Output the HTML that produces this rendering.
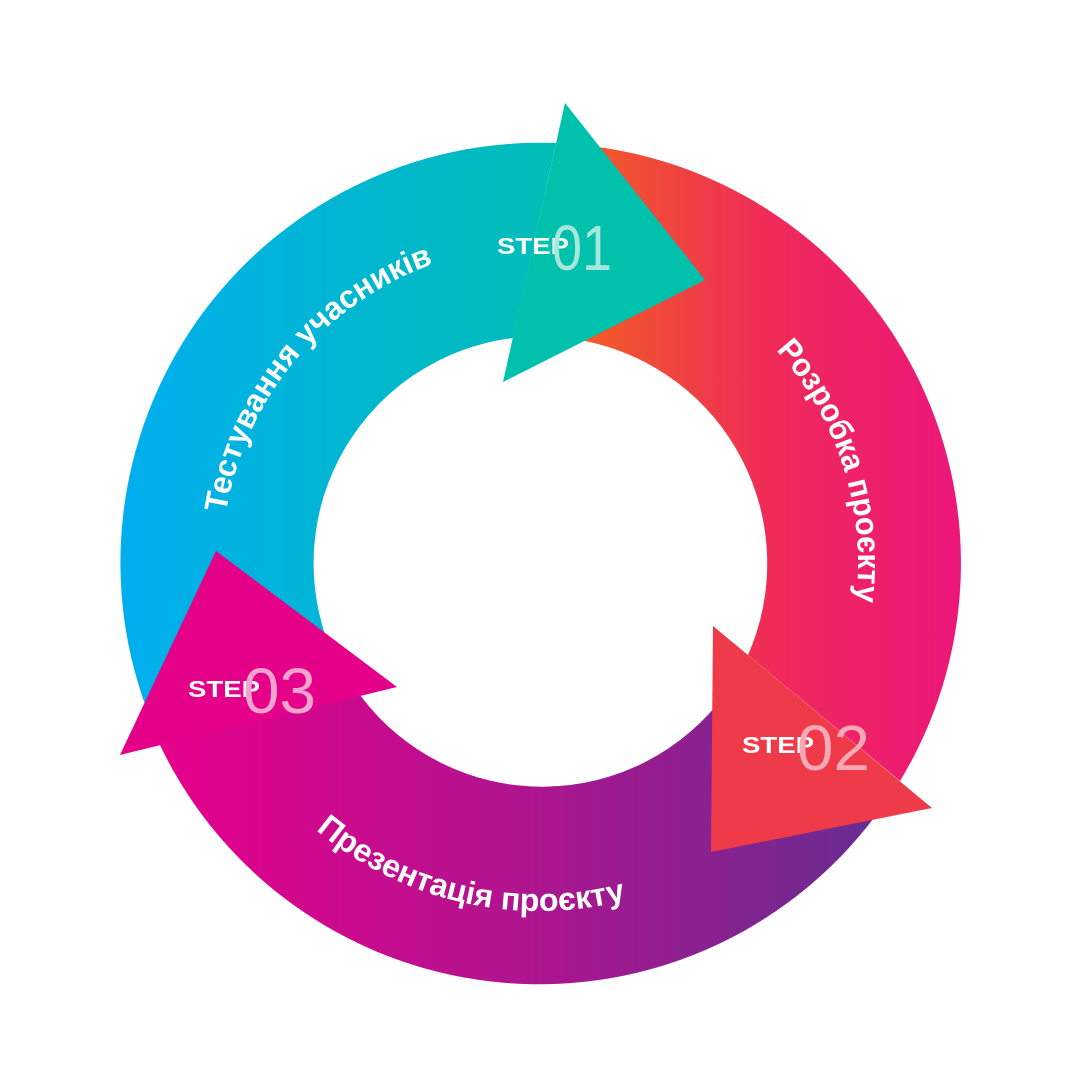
<!DOCTYPE html>
<html><head><meta charset="utf-8"><style>
html,body{margin:0;padding:0;background:#fff;}
svg{display:block;}
.t{font-family:"Liberation Sans",sans-serif;font-weight:bold;font-size:32px;fill:#fff;}
.s{font-family:"Liberation Sans",sans-serif;font-weight:bold;font-size:23px;fill:#fff;}
.n{font-family:"Liberation Sans",sans-serif;font-size:64px;}
</style></head><body>
<svg width="1080" height="1080" viewBox="0 0 1080 1080" xmlns="http://www.w3.org/2000/svg">
<defs>
<linearGradient id="g1" gradientUnits="userSpaceOnUse" x1="120" y1="0" x2="680" y2="0"><stop offset="0" stop-color="#00aeef"/><stop offset="1" stop-color="#00c2a6"/></linearGradient>
<linearGradient id="g2" gradientUnits="userSpaceOnUse" x1="590" y1="0" x2="960" y2="0"><stop offset="0" stop-color="#f15a29"/><stop offset="0.5" stop-color="#ef2a5a"/><stop offset="1" stop-color="#ec1679"/></linearGradient>
<linearGradient id="g3" gradientUnits="userSpaceOnUse" x1="160" y1="0" x2="880" y2="0"><stop offset="0" stop-color="#e6008b"/><stop offset="0.5" stop-color="#b0148f"/><stop offset="1" stop-color="#662d91"/></linearGradient>
<path id="p1" d="M 226 513 A 318 318 0 0 1 442 261"/>
<path id="p2" d="M 776 350 A 318 318 0 0 1 855 607"/>
<path id="p3" d="M 316 830 A 348 348 0 0 0 630 899"/>
</defs>
<path d="M 151 720 A 420 420 0 0 1 556 143 L 513 338 A 227 227 0 0 0 330 648 Z" fill="url(#g1)"/>
<path d="M 598 147 A 420 420 0 0 1 900 781 L 748 655 A 227 227 0 0 0 585 341 Z" fill="url(#g2)"/>
<path d="M 884 804 A 420 420 0 0 1 160 745 L 360 695 A 227 227 0 0 0 726 693 Z" fill="url(#g3)"/>
<polygon points="565,103 705,280 503,382" fill="#00c1ac"/>
<polygon points="713,626 932,808 711,852" fill="#ef3a4a"/>
<polygon points="216,551 397,687 120,755" fill="#e5008a"/>
<text class="t"><textPath href="#p1" textLength="340" lengthAdjust="spacingAndGlyphs">Тестування учасників</textPath></text>
<text class="t"><textPath href="#p2" textLength="272" lengthAdjust="spacingAndGlyphs">Розробка проєкту</textPath></text>
<text class="t"><textPath href="#p3" textLength="330" lengthAdjust="spacingAndGlyphs">Презентація проєкту</textPath></text>
<text x="497" y="254" class="s" textLength="72" lengthAdjust="spacingAndGlyphs">STEP</text><text x="552" y="270" class="n" fill="#a6e6dc" textLength="60" lengthAdjust="spacingAndGlyphs">01</text>
<text x="742" y="753" class="s" textLength="72" lengthAdjust="spacingAndGlyphs">STEP</text><text x="797" y="770" class="n" fill="#f7a8b6" textLength="73" lengthAdjust="spacingAndGlyphs">02</text>
<text x="188" y="697" class="s" textLength="72" lengthAdjust="spacingAndGlyphs">STEP</text><text x="243" y="713" class="n" fill="#f4a3cf" textLength="73" lengthAdjust="spacingAndGlyphs">03</text>
</svg>
</body></html>
